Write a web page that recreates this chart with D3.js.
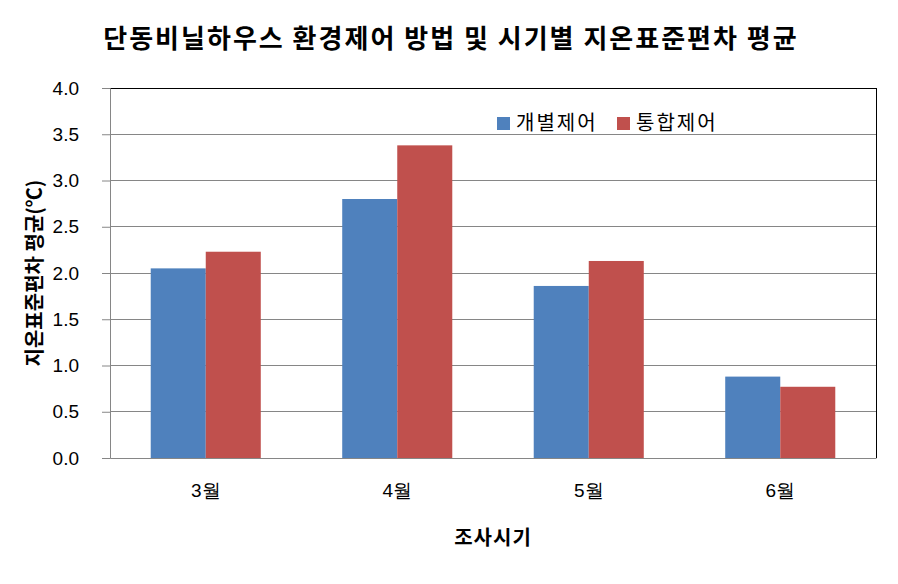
<!DOCTYPE html>
<html><head><meta charset="utf-8">
<script src="https://cdn.jsdelivr.net/npm/d3@7"></script>
<style>body{margin:0;background:#fff;}svg{display:block;font-family:"Noto Sans CJK KR","Noto Sans",sans-serif;}</style>
</head><body>
<script>
const categories = ["3월","4월","5월","6월"];
const seriesNames = ["개별제어","통합제어"];
const individual = [2.05, 2.80, 1.86, 0.88];
const integrated = [2.23, 3.38, 2.13, 0.77];
const yTicks = [0,0.5,1.0,1.5,2.0,2.5,3.0,3.5,4.0];
const colors = ["#4F81BD","#C0504D"];

const W=898,H=584;
const m={left:110,right:22,top:88,bottom:126};
const svg=d3.select("body").append("svg").attr("width",W).attr("height",H);
const x=d3.scaleBand().domain(categories).range([m.left,W-m.right]).paddingInner(0).paddingOuter(0);
const x1=d3.scaleBand().domain(seriesNames).range([0,x.bandwidth()]).paddingInner(0).paddingOuter(0.74);
const y=d3.scaleLinear().domain([0,4]).range([H-m.bottom,m.top]);

// gridlines
svg.append("g").selectAll("line").data(yTicks.filter(d=>d>0)).join("line")
 .attr("x1",m.left).attr("x2",W-m.right).attr("y1",d=>y(d)).attr("y2",d=>y(d))
 .attr("stroke",d=>d===4?"#000":"#868686").attr("stroke-width",1).attr("shape-rendering","crispEdges");
// right border
svg.append("line").attr("x1",W-m.right).attr("x2",W-m.right).attr("y1",m.top).attr("y2",H-m.bottom)
 .attr("stroke","#000").attr("shape-rendering","crispEdges");

// bars
const data=categories.map((c,i)=>({c,vals:[individual[i],integrated[i]]}));
const g=svg.append("g").selectAll("g").data(data).join("g").attr("transform",d=>`translate(${x(d.c)},0)`);
g.selectAll("rect").data(d=>d.vals.map((v,j)=>({s:seriesNames[j],v,j}))).join("rect")
 .attr("x",d=>x1(d.s)).attr("width",x1.bandwidth())
 .attr("y",d=>y(d.v)).attr("height",d=>y(0)-y(d.v)).attr("fill",d=>colors[d.j]);

// axes
const yAxis=svg.append("g").attr("transform",`translate(${m.left},0)`)
 .call(d3.axisLeft(y).tickValues(yTicks).tickFormat(d3.format(".1f")).tickSize(8).tickPadding(23));
yAxis.select(".domain").attr("stroke","#868686");
yAxis.selectAll(".tick line").attr("stroke","#868686");
yAxis.selectAll("text").attr("font-size",19).attr("fill","#000");
const xAxis=svg.append("g").attr("transform",`translate(0,${H-m.bottom})`)
 .call(d3.axisBottom(x).tickSize(0).tickPadding(26));
xAxis.select(".domain").attr("stroke","#868686");
xAxis.selectAll("text").attr("font-size",19).attr("fill","#000");

// titles
svg.append("text").attr("x",451).attr("y",48).attr("text-anchor","middle")
 .attr("font-size",26).attr("font-weight","bold").attr("letter-spacing",2).text("단동비닐하우스 환경제어 방법 및 시기별 지온표준편차 평균");
svg.append("text").attr("transform",`translate(42,${(m.top+H-m.bottom)/2}) rotate(-90)`).attr("text-anchor","middle")
 .attr("font-size",20).attr("font-weight","bold").text("지온표준편차 평균(℃)");
svg.append("text").attr("x",(m.left+W-m.right)/2).attr("y",545).attr("text-anchor","middle")
 .attr("font-size",20).attr("font-weight","bold").attr("letter-spacing",1).text("조사시기");

// legend
const lg=svg.append("g").selectAll("g").data(seriesNames).join("g")
 .attr("transform",(d,i)=>`translate(${497+i*120},117)`);
lg.append("rect").attr("width",13).attr("height",13).attr("fill",(d,i)=>colors[i]);
lg.append("text").attr("x",19).attr("y",13).attr("font-size",20).attr("letter-spacing",2).text(d=>d);
</script>
</body></html>
